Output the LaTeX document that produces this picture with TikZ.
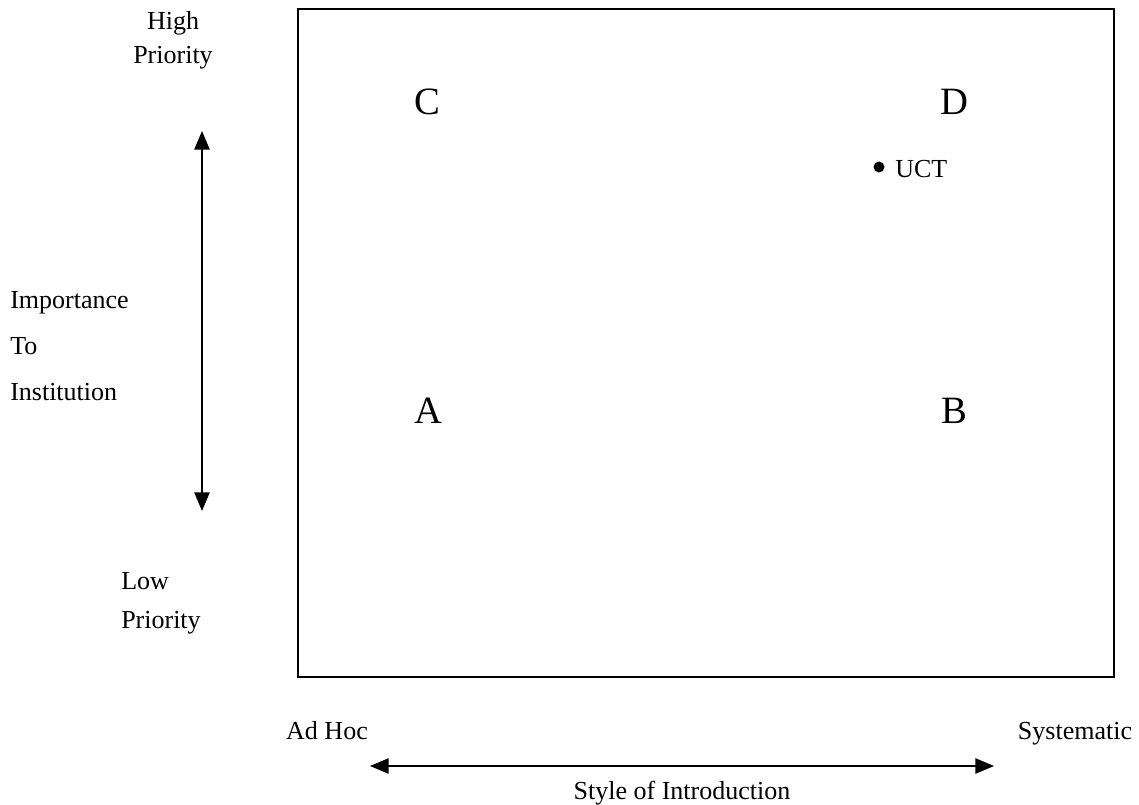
\documentclass[tikz,border=0pt]{standalone}
\usepackage{fontspec}
\setmainfont{Liberation Serif}
\usetikzlibrary{arrows.meta}

\begin{document}
\begin{tikzpicture}[
  x=0.75pt, y=-0.75pt,
  every node/.style={inner sep=0pt, font=\fontsize{19.5}{23}\selectfont},
  quad/.style={font=\fontsize{29}{33}\selectfont},
  axis/.style={line width=1.1pt, {Triangle[length=14pt, width=11.5pt]}-{Triangle[length=14pt, width=11.5pt]}}
]
  \useasboundingbox (0,0) rectangle (1139,805);

  % frame
  \draw[line width=1.5pt] (298,9) rectangle (1114,677);

  % quadrant letters
  \node[quad] (qc) at (427,102) {C};
  \node[quad] (qd) at (954,102) {D};
  \node[quad] (qa) at (428,411) {A};
  \node[quad] (qb) at (954,411) {B};

  % institution marker
  \fill (879,167) circle (5.5);
  \node[anchor=west] (uct) at (895,169) {UCT};

  % vertical axis
  \node (high) at (173,23) {High};
  \node (hiprio) at (173,58) {Priority};
  \node[anchor=west] (imp) at (10,303) {Importance};
  \node[anchor=west] (to) at (10,346) {To};
  \node[anchor=west] (inst) at (10,392) {Institution};
  \node[anchor=west] (low) at (121,581) {Low};
  \node[anchor=west] (loprio) at (121,623) {Priority};
  \coordinate (vtop) at (202,131);
  \coordinate (vbot) at (202,511);
  \draw[axis] (vtop) -- (vbot);

  % horizontal axis
  \node (adhoc) at (327,731) {Ad Hoc};
  \node (syst) at (1075,734) {Systematic};
  \node (style) at (682,793) {Style of Introduction};
  \coordinate (hleft) at (370,766);
  \coordinate (hright) at (994,766);
  \draw[axis] (hleft) -- (hright);
\end{tikzpicture}
\end{document}
